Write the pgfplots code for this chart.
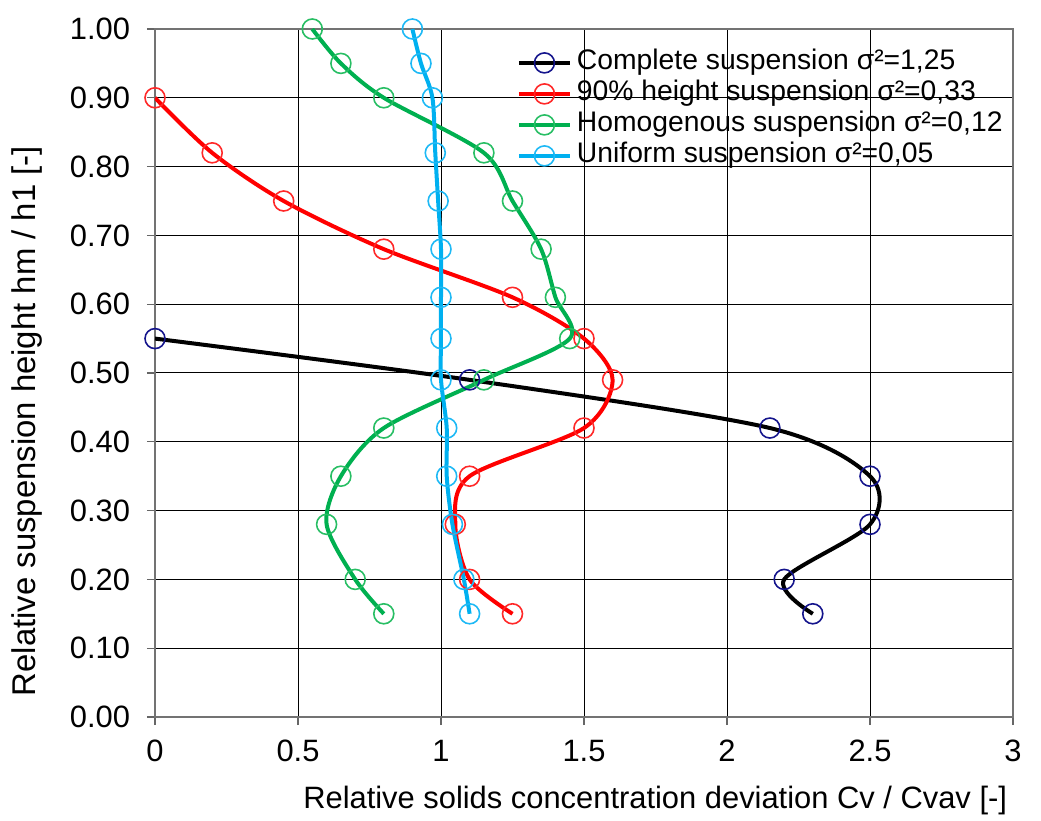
\documentclass[border=0pt]{standalone}
\usepackage{pgfplots}
\pgfplotsset{compat=1.18}
\usepackage{fontspec}
\setmainfont{Liberation Sans}
\definecolor{xlred}{RGB}{255,0,0}
\definecolor{xlgreen}{RGB}{0,176,80}
\definecolor{xlcyan}{RGB}{0,176,240}
\definecolor{mknavy}{RGB}{20,20,140}
\definecolor{mkred}{RGB}{255,40,40}
\definecolor{mkgreen}{RGB}{40,190,100}
\definecolor{mkcyan}{RGB}{30,185,245}
\begin{document}
\begin{tikzpicture}
\begin{axis}[
    name=ax,
    scale only axis,
    width=429bp, height=344bp,
    xmin=0, xmax=3, ymin=0, ymax=1,
    xtick={0,0.5,...,3},
    ytick={0,0.1,...,1.0},
    xtick pos=left, ytick pos=left,
    grid=major,
    grid style={black, line width=0.5pt},
    axis line style={black!55, line width=1pt},
    tick style={black!60, line width=0.6pt},
    tick align=outside,
    major tick length=4bp,
    /pgf/number format/assume math mode=true,
    tick label style={font=\fontsize{15.5}{17}\selectfont},
    yticklabel style={/pgf/number format/fixed, /pgf/number format/fixed zerofill,
        /pgf/number format/precision=2, xshift=-5bp},
    xticklabel style={/pgf/number format/fixed, /pgf/number format/precision=1, yshift=-4bp},
    xlabel={Relative solids concentration deviation Cv / Cvav [-]},
    ylabel={Relative suspension height hm / h1 [-]},
    xlabel style={font=\fontsize{15.5}{17}\selectfont,
        at={(axis description cs:0.583,0)}, anchor=center, yshift=-42bp},
    ylabel style={font=\fontsize{16.5}{18}\selectfont,
        at={(axis description cs:0,0.43)}, anchor=center, yshift=64bp},
    legend style={at={([xshift=-5bp,yshift=-9bp]rel axis cs:1,1)}, anchor=north east,
        draw=none, fill=none, inner sep=0pt, row sep=0pt,
        font=\fontsize{14.2}{15.5}\selectfont,
        nodes={inner sep=0pt, text height=11bp, text depth=4.5bp},
        /tikz/every odd column/.style={column sep=2.5bp},
        legend cell align=left},
    legend image code/.code={
        \draw[#1, mark=none] (0bp,0bp) -- (25.5bp,0bp);
        \draw[#1, only marks] plot coordinates {(12.75bp,0bp)};
    },
    every axis plot/.append style={line width=2bp, smooth, tension=0.5,
        mark=o, mark size=5bp},
]
\addplot[black, mark options={draw=mknavy, line width=0.8pt}] coordinates {
(0,0.55) (1.1,0.49) (2.15,0.42) (2.5,0.35) (2.5,0.28) (2.2,0.20) (2.3,0.15)
};
\addlegendentry{Complete suspension σ²=1,25}
\addplot[xlred, mark options={draw=mkred, line width=0.8pt}] coordinates {
(0,0.90) (0.2,0.82) (0.45,0.75) (0.8,0.68) (1.25,0.61) (1.5,0.55) (1.6,0.49)
(1.5,0.42) (1.1,0.35) (1.05,0.28) (1.1,0.20) (1.25,0.15)
};
\addlegendentry{90\% height suspension σ²=0,33}
\addplot[xlgreen, mark options={draw=mkgreen, line width=0.8pt}] coordinates {
(0.55,1.00) (0.65,0.95) (0.8,0.90) (1.15,0.82) (1.25,0.75) (1.35,0.68) (1.4,0.61)
(1.45,0.55) (1.15,0.49) (0.8,0.42) (0.65,0.35) (0.6,0.28) (0.7,0.20) (0.8,0.15)
};
\addlegendentry{Homogenous suspension σ²=0,12}
\addplot[xlcyan, mark options={draw=mkcyan, line width=0.8pt}] coordinates {
(0.9,1.00) (0.93,0.95) (0.97,0.90) (0.98,0.82) (0.99,0.75) (1.0,0.68) (1.0,0.61)
(1.0,0.55) (1.0,0.49) (1.02,0.42) (1.02,0.35) (1.04,0.28) (1.08,0.20) (1.1,0.15)
};
\addlegendentry{Uniform suspension σ²=0,05}
\end{axis}
\pgfresetboundingbox
\path ([shift={(-77.5bp,-52bp)}]ax.south west) rectangle ([shift={(14bp,14.5bp)}]ax.north east);
\end{tikzpicture}
\end{document}
